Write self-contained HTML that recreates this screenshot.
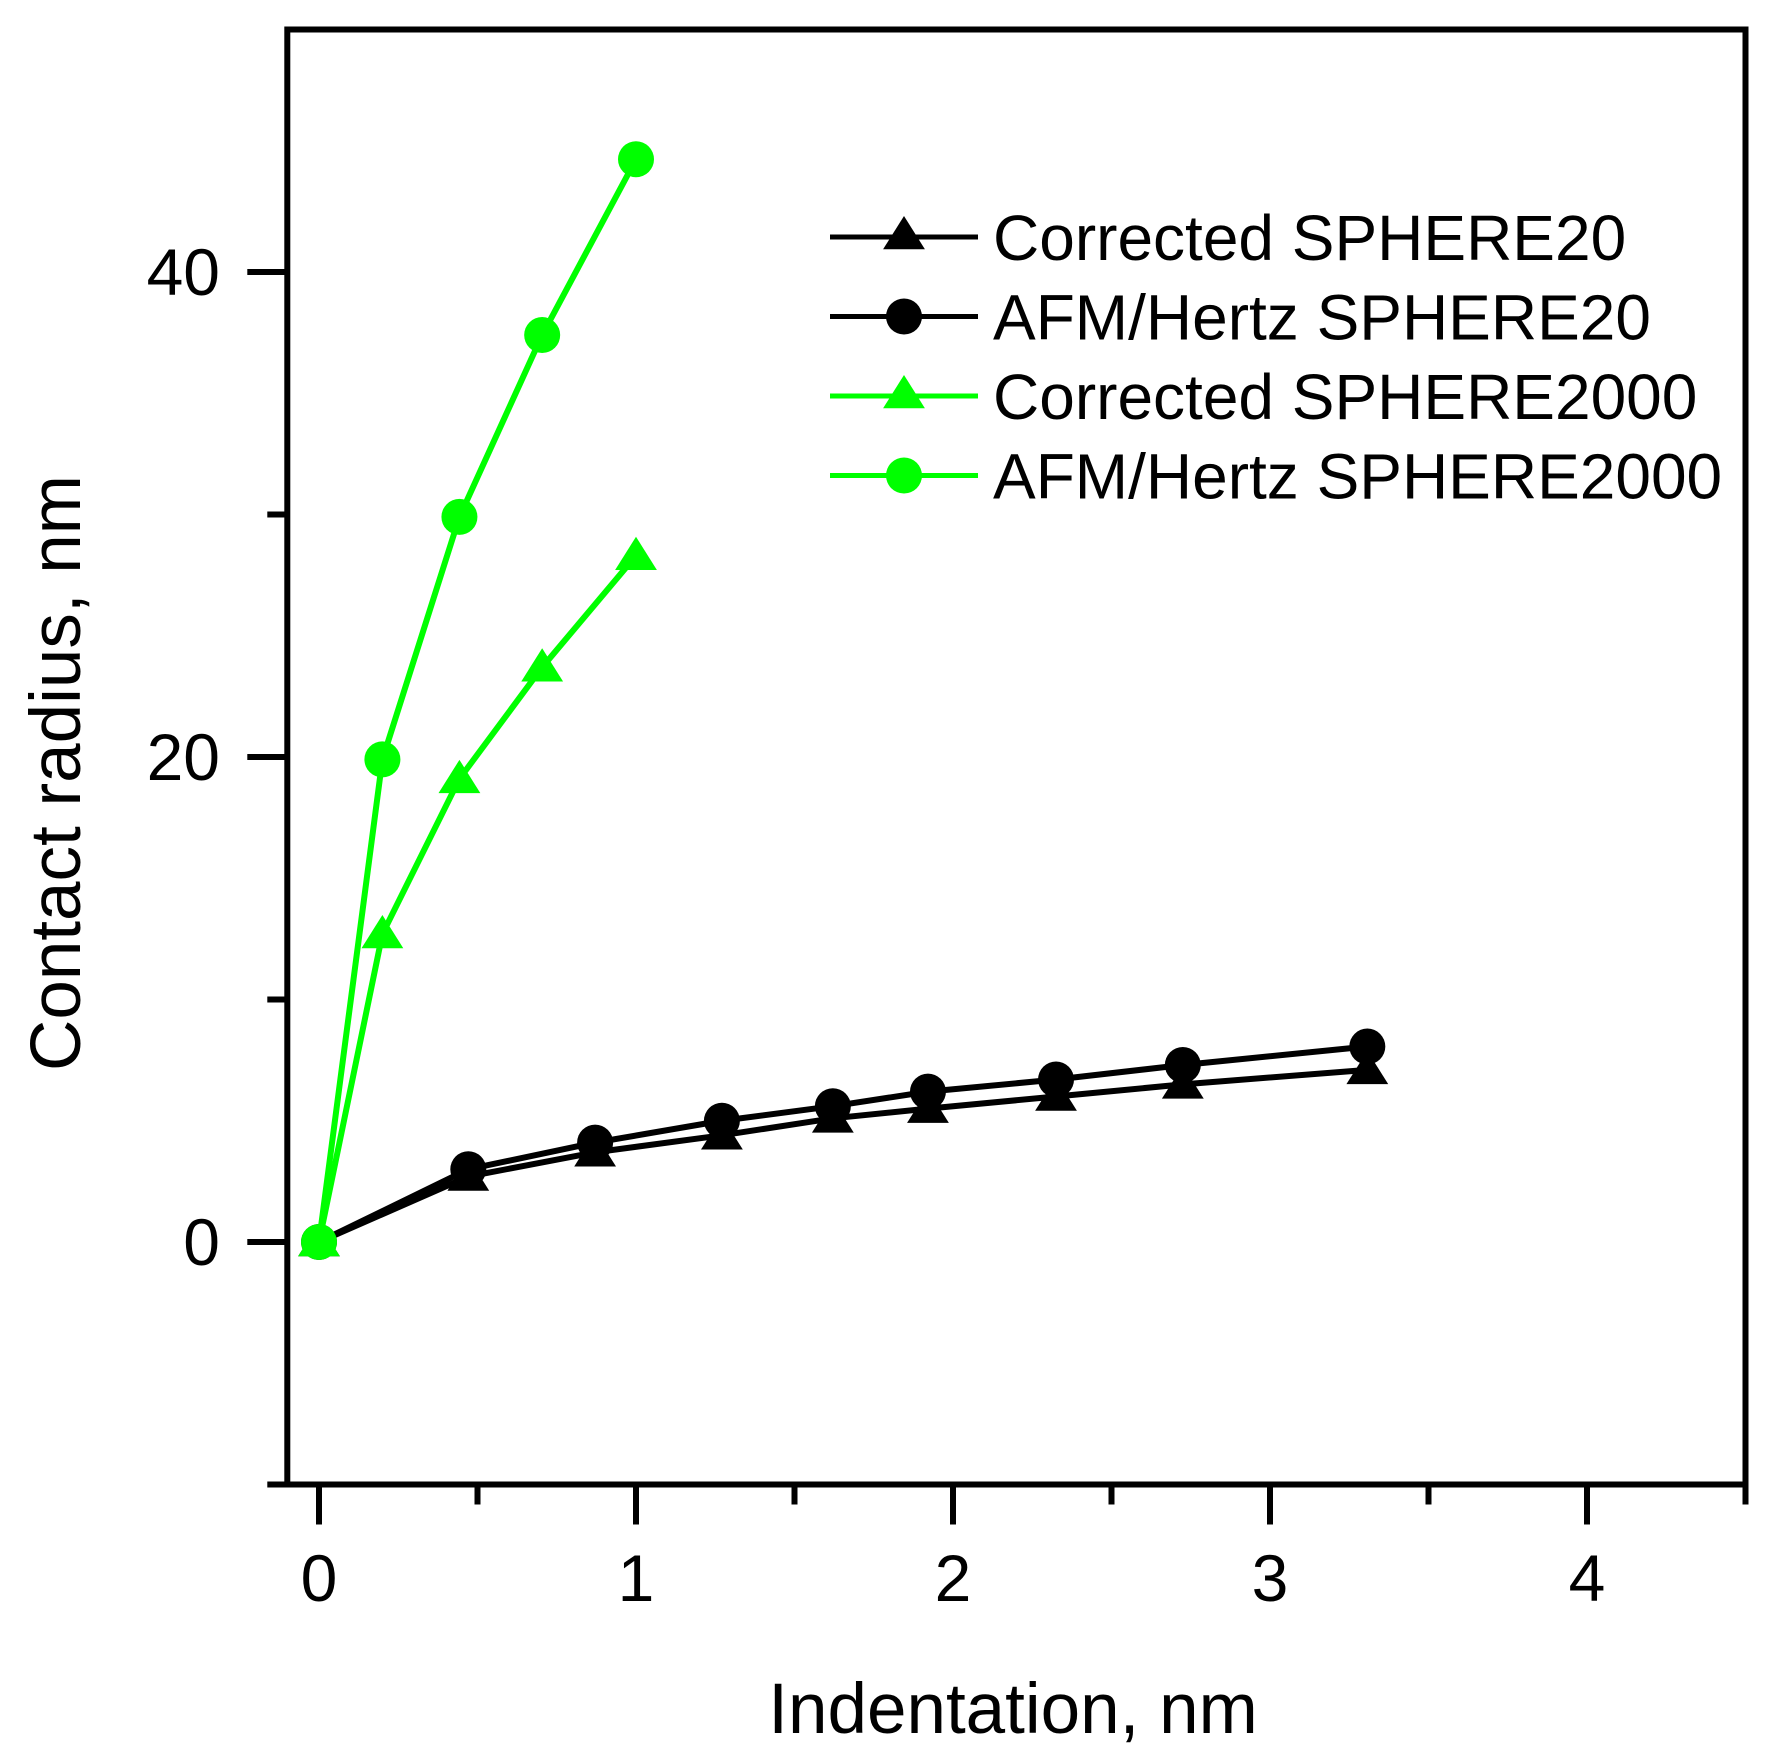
<!DOCTYPE html>
<html><head><meta charset="utf-8"><style>
html,body{margin:0;padding:0;background:#fff;}
svg{display:block;font-family:"Liberation Sans",Arial,sans-serif;}
</style></head><body>
<svg id="chart" width="1775" height="1750" viewBox="0 0 1775 1750" xmlns="http://www.w3.org/2000/svg">
<g id="axes"></g>
<g id="series"></g>
<g id="legend"></g>
<text x="0" y="0" transform="translate(80,773) rotate(-90)" text-anchor="middle" font-size="71">Contact radius, nm</text>
<text x="1013" y="1733" text-anchor="middle" font-size="71">Indentation, nm</text>
</svg>
<script>
const xTickValues=[0,1,2,3,4];
const xMinorValues=[0.5,1.5,2.5,3.5,4.5];
const yTickValues=[0,20,40];
const yMinorValues=[-10,10,30];
const sphere20X=[0,0.471,0.871,1.271,1.621,1.921,2.325,2.725,3.307];
const afm20Y=[0,3.0,4.1,5.0,5.6,6.2,6.7,7.3,8.06];
const corr20Y=[0,2.7,3.7,4.4,5.1,5.5,6.0,6.5,7.1];
const sphere2000X=[0,0.2,0.443,0.704,1.0];
const afm2000Y=[0,19.9,29.9,37.4,44.65];
const corr2000Y=[0,12.7,19.1,23.7,28.3];
const legendLabels=["Corrected SPHERE20","AFM/Hertz SPHERE20","Corrected SPHERE2000","AFM/Hertz SPHERE2000"];

const NS="http://www.w3.org/2000/svg";
const X0=319, XS=317, Y0=1242, YS=24.25;
function sx(v){return X0+v*XS;}
function sy(v){return Y0-v*YS;}
function mk(tag,attrs,parent){const e=document.createElementNS(NS,tag);for(const k in attrs)e.setAttribute(k,attrs[k]);parent.appendChild(e);return e;}
const axes=document.getElementById('axes');
const L=sx(-0.1),R=sx(4.5),T=sy(50),B=sy(-10);
let f=mk('rect',{x:L,y:T,width:R-L,height:B-T,fill:'none',stroke:'#000','stroke-width':6},axes);


xTickValues.forEach(v=>{
  let t=mk('line',{x1:sx(v),x2:sx(v),y1:B,y2:B+40,stroke:'#000','stroke-width':6},axes);
  
  
  let l=mk('text',{x:sx(v),y:1601,'text-anchor':'middle','font-size':66},axes);
  l.textContent=v;
  
  
});
xMinorValues.forEach(v=>{
  let t=mk('line',{x1:sx(v),x2:sx(v),y1:B,y2:B+20,stroke:'#000','stroke-width':6},axes);
  
  
});
yTickValues.forEach(v=>{
  let t=mk('line',{x1:L-40,x2:L,y1:sy(v),y2:sy(v),stroke:'#000','stroke-width':6},axes);
  
  
  let l=mk('text',{x:220,y:sy(v)+23,'text-anchor':'end','font-size':66},axes);
  l.textContent=v;
  
  
});
yMinorValues.forEach(v=>{
  let t=mk('line',{x1:L-20,x2:L,y1:sy(v),y2:sy(v),stroke:'#000','stroke-width':6},axes);
  
  
});
const ser=document.getElementById('series');
function tri(cx,cy,r){return `${cx},${cy-r} ${cx-r*1.1},${cy+r*0.75} ${cx+r*1.1},${cy+r*0.75}`;}
function drawSeries(xs,ys,color,marker,name){
  const g=mk('g',{},ser);
  
  
  const pts=xs.map((x,i)=>sx(x)+','+sy(ys[i])).join(' ');
  let pl=mk('polyline',{points:pts,fill:'none',stroke:color,'stroke-width':6},g);
  
  
  xs.forEach((x,i)=>{
    let m;
    if(marker==='circle') m=mk('circle',{cx:sx(x),cy:sy(ys[i]),r:18,fill:color},g);
    else m=mk('polygon',{points:tri(sx(x),sy(ys[i]),19),fill:color},g);
    
    
  });
}
drawSeries(sphere20X,corr20Y,'#000','tri','corrected-sphere20');
drawSeries(sphere20X,afm20Y,'#000','circle','afm-hertz-sphere20');
drawSeries(sphere2000X,corr2000Y,'#00ff00','tri','corrected-sphere2000');
drawSeries(sphere2000X,afm2000Y,'#00ff00','circle','afm-hertz-sphere2000');
const leg=document.getElementById('legend');
const legColors=['#000','#000','#00ff00','#00ff00'];
const legMarkers=['tri','circle','tri','circle'];
legendLabels.forEach((lab,i)=>{
  const y=237+i*79.5;
  const g=mk('g',{},leg);
  
  
  mk('line',{x1:830,x2:978,y1:y,y2:y,stroke:legColors[i],'stroke-width':5},g);
  if(legMarkers[i]==='circle') mk('circle',{cx:904,cy:y,r:18,fill:legColors[i]},g);
  else mk('polygon',{points:tri(904,y-2,19),fill:legColors[i]},g);
  const t=mk('text',{x:993,y:y+23,'font-size':64},g);
  t.textContent=lab;
});
</script>
</body></html>
